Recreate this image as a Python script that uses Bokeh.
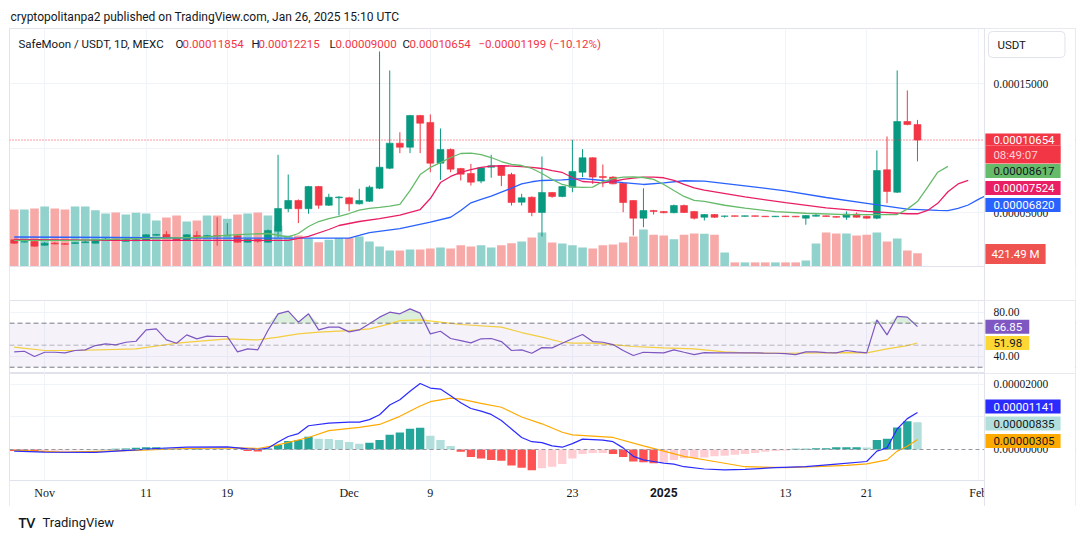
import numpy as np
import pandas as pd
from bokeh.plotting import figure
from bokeh.layouts import column
from bokeh.models import (Range1d, FixedTicker, Label, LabelSet, Span, BoxAnnotation, Grid,
                          ColumnDataSource)
from bokeh.embed import file_html
from bokeh.resources import INLINE

# ---------------- data (prices in units of 1e-5 USDT) ----------------
START_DATE = "2024-10-29"

open_e5 = [2.92, 2.75, 2.79, 2.50, 2.66, 2.62, 2.64, 2.70, 2.66, 2.88,
           2.95, 2.80, 2.85, 2.87, 3.28, 3.33, 3.08, 2.87, 3.26, 3.20,
           3.25, 3.22, 3.23, 2.74, 2.95, 2.74, 3.59, 5.33, 5.97, 5.33,
           7.05, 5.60, 6.18, 6.18, 5.71, 5.91, 6.92, 8.47, 10.41, 10.10,
           12.56, 12.02, 8.86, 9.92, 8.45, 8.06, 7.47, 8.55, 8.68, 7.98,
           5.84, 6.22, 5.04, 6.59, 6.28, 7.00, 8.16, 9.28, 7.83, 7.78,
           7.31, 5.97, 4.60, 5.19, 5.12, 5.02, 5.58, 5.12, 4.67, 4.88,
           4.74, 4.78, 4.74, 4.78, 4.75, 4.71, 4.76, 4.75, 4.60, 4.75,
           4.78, 4.73, 4.67, 4.91, 4.75, 4.60, 8.35, 6.61, 12.09, 11.854]
high_e5 = [2.98, 2.80, 2.82, 2.74, 2.74, 2.66, 2.74, 2.85, 2.96, 3.10,
           3.00, 3.08, 3.08, 3.35, 3.38, 3.59, 3.12, 3.35, 3.59, 3.31,
           4.67, 4.21, 3.27, 3.00, 2.99, 3.72, 9.51, 7.98, 6.05, 7.10,
           7.10, 6.49, 6.30, 6.25, 6.88, 7.13, 17.52, 16.05, 11.26, 12.60,
           12.60, 12.64, 11.55, 10.00, 8.50, 8.81, 8.55, 9.51, 8.72, 8.12,
           6.49, 6.28, 9.38, 6.62, 7.10, 10.67, 9.95, 9.32, 8.76, 7.85,
           7.35, 6.00, 6.92, 5.24, 5.15, 5.65, 5.65, 5.15, 4.92, 4.92,
           4.80, 4.80, 4.80, 4.80, 4.77, 4.77, 4.78, 4.77, 4.84, 4.94,
           4.80, 4.74, 5.12, 5.04, 4.78, 9.85, 10.93, 16.05, 14.50, 12.215]
low_e5 = [2.60, 2.72, 2.40, 2.47, 2.58, 2.55, 2.62, 2.68, 2.64, 2.85,
          2.87, 2.78, 2.83, 2.85, 3.25, 3.05, 2.84, 2.85, 2.92, 3.08,
          2.46, 3.20, 2.70, 2.72, 2.70, 2.72, 3.12, 5.06, 4.21, 4.94,
          5.33, 5.55, 4.81, 5.14, 5.65, 5.85, 6.85, 8.40, 9.64, 9.64,
          9.64, 8.16, 7.57, 8.16, 7.52, 7.13, 7.31, 7.73, 7.08, 5.58,
          5.58, 4.75, 3.18, 6.18, 6.22, 6.61, 7.78, 7.26, 7.00, 7.22,
          5.06, 3.26, 3.90, 4.88, 4.98, 4.98, 5.00, 4.50, 4.42, 4.62,
          4.64, 4.72, 4.72, 4.72, 4.69, 4.69, 4.70, 4.68, 4.09, 4.73,
          4.70, 4.64, 4.47, 4.65, 4.57, 4.52, 5.76, 6.55, 11.80, 9.00]
close_e5 = [2.66, 2.77, 2.43, 2.66, 2.60, 2.57, 2.70, 2.76, 2.92, 2.92,
            2.90, 2.95, 2.92, 3.31, 3.33, 3.08, 2.87, 3.31, 3.08, 3.24,
            3.21, 3.27, 2.74, 2.95, 2.81, 3.64, 5.35, 5.97, 5.33, 7.05,
            5.60, 6.22, 6.24, 5.71, 5.97, 7.00, 8.55, 10.41, 10.10, 12.56,
            11.96, 8.86, 9.92, 8.40, 8.01, 7.39, 8.50, 8.66, 7.91, 5.81,
            6.18, 5.04, 6.59, 6.28, 7.05, 8.22, 9.28, 7.78, 7.75, 7.26,
            5.81, 4.60, 5.19, 5.12, 5.02, 5.58, 5.04, 4.60, 4.88, 4.67,
            4.77, 4.74, 4.78, 4.74, 4.71, 4.75, 4.72, 4.70, 4.81, 4.83,
            4.73, 4.67, 4.91, 4.67, 4.60, 8.29, 6.67, 12.09, 11.854, 10.654]
volume_m = [1810, 1810, 1840, 1900, 1840, 1810, 1900, 1900, 1780, 1680,
            1710, 1650, 1700, 1680, 1460, 1550, 1620, 1430, 1460, 1620,
            1620, 1510, 1650, 1680, 1710, 1620, 1300, 980, 980, 880,
            770, 850, 900, 900, 950, 790, 630, 510, 510, 540,
            540, 570, 600, 570, 670, 630, 670, 600, 670, 740,
            790, 920, 1080, 760, 730, 670, 600, 570, 670, 700,
            760, 950, 1170, 1010, 980, 860, 1010, 1050, 1040, 1010,
            440, 130, 130, 130, 130, 130, 130, 130, 190, 730,
            1080, 1050, 1050, 980, 1010, 1080, 790, 890, 510, 421.49]

# Williams Alligator lines (read at sampled days, shifted forward)
lips_day = [0, 6, 12, 18, 22, 25, 27, 28, 29, 30, 31, 32, 33, 34, 35, 36, 37, 38, 39, 40,
            41, 42, 43, 44, 45, 46, 47, 48, 49, 50, 51, 52, 53, 54, 55, 56, 57, 58, 59, 60,
            61, 62, 63, 64, 65, 66, 67, 68, 70, 72, 75, 78, 82, 87, 88, 89, 90, 91, 92]
lips_e5 = [2.87, 2.87, 3.02, 3.10, 3.33, 3.41, 3.14, 3.41, 3.95, 4.34, 4.57, 4.73, 4.96, 5.23,
           5.35, 5.43, 5.54, 5.66, 6.74, 7.98, 8.53, 8.91, 9.30, 9.61, 9.64, 9.53, 9.30, 8.99,
           8.76, 8.68, 8.45, 8.06, 7.60, 7.21, 7.02, 6.98, 7.00, 7.44, 7.67, 7.78, 7.79, 7.75,
           7.60, 7.21, 6.74, 6.28, 5.97, 5.90, 5.60, 5.38, 5.10, 4.98, 4.88, 4.88, 5.30, 5.89,
           7.00, 8.16, 8.617]
teeth_day = [0, 10, 20, 27, 29, 31, 32, 34, 36, 38, 40, 41, 42, 43, 44, 45, 46, 47, 48, 49,
             50, 51, 52, 53, 54, 55, 56, 57, 58, 59, 60, 61, 62, 63, 64, 65, 66, 67, 68, 72,
             76, 80, 84, 88, 89, 90, 91, 92, 93, 94]
teeth_e5 = [2.95, 2.87, 2.87, 2.87, 3.18, 3.72, 4.03, 4.34, 4.57, 4.84, 5.27, 6.12, 7.36, 7.83,
            8.14, 8.37, 8.53, 8.63, 8.66, 8.64, 8.60, 8.53, 8.45, 8.29, 8.14, 7.75, 7.44, 7.39,
            7.33, 7.44, 7.60, 7.71, 7.78, 7.78, 7.73, 7.52, 7.21, 6.95, 6.78, 6.25, 5.80, 5.40,
            5.12, 4.94, 4.94, 5.20, 5.75, 6.65, 7.25, 7.524]
jaw_day = [0, 10, 20, 33, 34, 35, 38, 41, 43, 44, 45, 46, 47, 48, 49, 50, 51, 52, 54, 56,
           58, 60, 62, 64, 66, 68, 72, 76, 80, 84, 88, 91, 92, 93, 94, 95, 96, 97]
jaw_e5 = [3.14, 3.10, 3.05, 3.05, 3.26, 3.48, 3.78, 4.29, 4.67, 5.19, 5.79, 6.05, 6.30, 6.61,
          6.92, 7.26, 7.42, 7.52, 7.57, 7.67, 7.52, 7.36, 7.21, 7.34, 7.50, 7.47, 7.10, 6.72,
          6.20, 5.75, 5.30, 5.20, 5.19, 5.35, 5.62, 6.05, 6.45, 6.82]

rsi = [43.9, 44.5, 39.7, 43.6, 43.6, 43.0, 45.2, 45.8, 49.7, 51.2,
       50.3, 52.7, 53.6, 63.9, 64.8, 54.8, 51.8, 59.4, 55.8, 58.2,
       57.9, 57.9, 43.9, 46.7, 45.8, 63.3, 78.5, 80.9, 70.9, 78.5,
       63.9, 66.4, 66.4, 62.1, 63.9, 69.4, 75.5, 80.0, 78.5, 83.0,
       79.1, 60.3, 62.7, 56.1, 54.2, 52.1, 55.8, 56.1, 53.3, 45.2,
       45.8, 42.7, 47.8, 47.6, 51.8, 55.8, 59.7, 53.3, 52.7, 50.6,
       45.2, 40.6, 43.6, 43.3, 43.0, 45.8, 43.6, 41.5, 43.3, 43.0,
       43.0, 43.0, 43.0, 43.0, 42.7, 42.7, 42.4, 41.5, 43.9, 43.9,
       43.3, 43.0, 45.2, 43.9, 43.0, 73.0, 59.4, 76.1, 75.5, 66.85]
rsi_ma_day = [0, 3, 6, 12, 16, 21, 24, 26, 28, 30, 33, 35, 37, 38, 40, 42, 44, 48, 50, 52,
              54, 55, 57, 59, 61, 64, 67, 70, 72, 76, 79, 82, 84, 86, 88, 89]
rsi_ma = [48.2, 45.2, 45.2, 46.7, 51.8, 55.8, 54.8, 57.3, 60.3, 61.8, 63.3, 64.8, 69.4, 72.4,
          73.0, 70.9, 68.8, 66.4, 61.5, 57.3, 52.7, 51.8, 51.8, 50.6, 48.8, 47.6, 46.7, 43.9,
          43.0, 42.7, 43.0, 43.3, 43.0, 46.7, 49.7, 51.98]

macd_day = [0, 3, 8, 12, 14, 17, 21, 23, 24, 25, 26, 27, 28, 29, 31, 33, 34, 35, 36, 37,
            38, 39, 40, 41, 42, 43, 44, 45, 46, 47, 48, 49, 50, 51, 52, 53, 54, 55, 56, 58,
            59, 60, 61, 62, 63, 64, 65, 66, 68, 70, 72, 75, 78, 81, 84, 85, 86, 87, 88, 89]
macd_e5 = [-0.05, -0.08, -0.09, -0.01, 0.03, 0.07, 0.08, 0.02, 0.00, 0.04, 0.23, 0.40, 0.49,
           0.73, 0.81, 0.84, 0.84, 0.92, 1.07, 1.37, 1.53, 1.79, 2.03, 1.89, 1.86, 1.65, 1.44,
           1.26, 1.18, 1.08, 0.89, 0.63, 0.37, 0.24, 0.21, 0.11, 0.07, 0.18, 0.32, 0.29, 0.24,
           0.05, -0.21, -0.32, -0.37, -0.42, -0.45, -0.53, -0.60, -0.63, -0.61, -0.56, -0.53,
           -0.45, -0.37, -0.05, 0.05, 0.63, 0.95, 1.141]
signal_day = [0, 5, 12, 17, 22, 24, 26, 29, 31, 34, 36, 38, 40, 41, 43, 44, 46, 48, 50, 52,
              54, 55, 59, 62, 64, 66, 69, 72, 76, 79, 82, 84, 86, 87, 88, 89]
signal_e5 = [-0.03, -0.08, -0.03, 0.03, 0.05, 0.03, 0.14, 0.37, 0.58, 0.68, 0.77, 1.02, 1.34,
             1.47, 1.58, 1.55, 1.42, 1.30, 1.00, 0.79, 0.53, 0.45, 0.37, 0.11, -0.05, -0.21,
             -0.37, -0.53, -0.56, -0.53, -0.49, -0.44, -0.32, -0.05, 0.10, 0.305]
hist_e5 = [-0.05, -0.06, -0.065, -0.05, -0.04, -0.03, -0.02, -0.01, 0.01, 0.01,
           0.02, 0.03, 0.05, 0.07, 0.07, 0.05, 0.04, 0.03, 0.03, 0.025,
           0.02, 0.01, 0.005, -0.05, -0.06, 0.03, 0.14, 0.26, 0.29, 0.39,
           0.33, 0.32, 0.29, 0.23, 0.18, 0.21, 0.29, 0.45, 0.52, 0.64,
           0.67, 0.42, 0.29, 0.11, -0.07, -0.23, -0.28, -0.32, -0.35, -0.49,
           -0.56, -0.64, -0.58, -0.53, -0.45, -0.28, -0.14, -0.11, -0.11, -0.14,
           -0.23, -0.37, -0.39, -0.42, -0.39, -0.32, -0.27, -0.26, -0.25, -0.21,
           -0.19, -0.16, -0.14, -0.11, -0.07, -0.05, -0.03, 0.02, 0.02, 0.04,
           0.04, 0.07, 0.07, 0.07, 0.065, 0.29, 0.33, 0.68, 0.87, 0.835]

tick_dates = ["2024-11-01", "2024-11-11", "2024-11-19", "2024-12-01", "2024-12-09",
              "2024-12-23", "2025-01-01", "2025-01-13", "2025-01-21", "2025-02-01"]
tick_labels = ["Nov", "11", "19", "Dec", "9", "23", "2025", "13", "21", "Feb"]

price_ticks = [0.00005, 0.00015]
price_grid = [0.00005, 0.00010, 0.00015]
rsi_ticks = [40, 80]
macd_ticks = [0.0, 0.00002]
macd_grid = [0.00001, 0.00002]

# ---------------- derived ----------------
E5 = 1e-5
n = len(close_e5)
day = np.arange(n)
o = np.array(open_e5) * E5
h = np.array(high_e5) * E5
l = np.array(low_e5) * E5
c = np.array(close_e5) * E5
vol = np.array(volume_m) * 1e6
start = pd.Timestamp(START_DATE)
tick_idx = [float((pd.Timestamp(d) - start).days) for d in tick_dates]

UP, DN = "#089981", "#F23645"
VUP, VDN = "#92D2CC", "#F7A9A7"
up = c >= o
ccol = np.where(up, UP, DN)
vcol = np.where(up, VUP, VDN)

hist = np.array(hist_e5) * E5
prev = np.concatenate([[0.0], hist[:-1]])
hcol = np.where(hist >= 0, np.where(hist >= prev, "#26A69A", "#B2DFDB"),
                np.where(hist < prev, "#FF5252", "#FFCDD2"))

FONT = "Roboto"
FS = "11.5px"
TXT = "#131722"
GRID = "#F0F3FA"
BORDER = "#E0E3EB"
W = 1080
SCALE_X = 95.6      # left edge of the price-scale column (in bar units)
LABEL_X = 96.5      # where the scale texts start
TAG_X = 95.69       # left edge of the coloured value tags
x_rng = Range1d(-0.463, 104.57)
PRICE_BOTTOM = 0.853 * E5   # bottom of the price pane; below it an empty strip
MACD_BOTTOM = -0.954 * E5   # bottom of the MACD pane; below it is the time scale


def make_fig(height, top, bottom, y_rng, gticks):
    p = figure(width=W, height=height, x_range=x_rng, y_range=y_rng,
               output_backend="svg", toolbar_location=None,
               x_axis_location=None, y_axis_location=None,
               min_border_left=9, min_border_right=5, min_border_top=top,
               min_border_bottom=bottom, outline_line_color=BORDER,
               background_fill_color="white", border_fill_color="white")
    p.grid.visible = False
    p.add_layout(Grid(dimension=0, ticker=FixedTicker(ticks=tick_idx),
                      grid_line_color=GRID))
    p.add_layout(Grid(dimension=1, ticker=FixedTicker(ticks=gticks),
                      grid_line_color=GRID))
    return p


def strip_below(p, level):
    # blank strip under a pane (no grid), with the pane's bottom separator
    p.add_layout(BoxAnnotation(top=level, fill_color="white", fill_alpha=1.0,
                               line_color=None))
    p.add_layout(Span(location=level, dimension="width", line_color=BORDER))


def price_scale(p, ticks, fmt):
    # white price-scale column with its separator, then the tick texts
    p.add_layout(BoxAnnotation(left=SCALE_X, fill_color="white", fill_alpha=1.0,
                               line_color=None))
    p.add_layout(Span(location=SCALE_X, dimension="height", line_color=BORDER,
                      line_width=1))
    src = ColumnDataSource(dict(y=ticks, text=[fmt % t for t in ticks]))
    p.add_layout(LabelSet(x=LABEL_X, y="y", text="text", source=src,
                          text_font=FONT, text_font_size=FS, text_color=TXT,
                          text_align="left", text_baseline="middle"))


def tag(p, text, y, bg, color="white", y_units="screen", pl=8, pr=6, pt=3, pb=3,
        x=TAG_X, border=None, radius=0):
    p.add_layout(Label(x=x, y=y, x_units="data", y_units=y_units, text=text,
                       text_font=FONT, text_font_size=FS, text_color=color,
                       text_align="left", text_baseline="middle",
                       background_fill_color=bg, background_fill_alpha=1.0,
                       border_line_color=border, border_radius=radius,
                       padding={"left": pl, "right": pr, "top": pt, "bottom": pb}))


def text(p, s, x, y, color=TXT, size=FS, style="normal", font=FONT):
    p.add_layout(Label(x=x, y=y, x_units="screen", y_units="screen", text=s,
                       text_font=font, text_font_size=size, text_color=color,
                       text_font_style=style, text_align="left", text_baseline="middle"))


# ---------------- price pane ----------------
p1 = make_fig(300, 28, 0, Range1d(-1.783 * E5, 19.30 * E5), price_grid)
p1.title.text = "cryptopolitanpa2 published on TradingView.com, Jan 26, 2025 15:10 UTC"
p1.title.align = "left"
p1.title.offset = 1
p1.title.standoff = 9
p1.title.text_font = FONT
p1.title.text_font_size = "12px"
p1.title.text_font_style = "normal"
p1.title.text_color = TXT

p1.extra_y_ranges = {"vol": Range1d(-1.078e9, 7.545e9)}
p1.vbar(x=day, width=0.85, top=vol, bottom=0, fill_color=vcol, line_color=None,
        y_range_name="vol")
p1.segment(x0=day, y0=l, x1=day, y1=h, line_color=ccol, line_width=1)
p1.vbar(x=day, width=0.68, top=np.maximum(o, c), bottom=np.minimum(o, c),
        fill_color=ccol, line_color=ccol, line_width=0.6)
p1.line(jaw_day, np.array(jaw_e5) * E5, line_color="#2962FF", line_width=1.3)
p1.line(teeth_day, np.array(teeth_e5) * E5, line_color="#E91E63", line_width=1.3)
p1.line(lips_day, np.array(lips_e5) * E5, line_color="#66BB6A", line_width=1.3)
p1.add_layout(Span(location=c[-1], dimension="width", line_color=DN,
                   line_dash="1 2", line_width=1))
strip_below(p1, PRICE_BOTTOM)

LY = 257
text(p1, "SafeMoon / USDT, 1D, MEXC", 9, LY)
text(p1, "O", 166, LY)
text(p1, "%.8f" % o[-1], 173, LY, color=DN)
text(p1, "H", 242, LY)
text(p1, "%.8f" % h[-1], 249, LY, color=DN)
text(p1, "L", 320, LY)
text(p1, "%.8f" % l[-1], 326, LY, color=DN)
text(p1, "C", 393, LY)
text(p1, "%.8f" % c[-1], 400, LY, color=DN)
text(p1, "\u22120.00001199 (\u221210.12%)", 469, LY, color=DN)

price_scale(p1, price_ticks, "%.8f")
tag(p1, "USDT", 256, "white", color=TXT, pl=9, pr=39, pt=6, pb=6, x=95.99,
    border=BORDER, radius=4)
tag(p1, "%.8f" % c[-1], 161, DN, pt=2, pb=2)
tag(p1, "08:49:07", 146, DN, color="#FFD1D5", pr=23, pt=2, pb=2)
tag(p1, "%.8f" % (lips_e5[-1] * E5), 129.5, "#66BB6A", color=TXT)
tag(p1, "%.8f" % (teeth_e5[-1] * E5), 112.5, "#E91E63")
tag(p1, "%.8f" % (jaw_e5[-1] * E5), 95.5, "#2962FF")
tag(p1, "%.2f M" % volume_m[-1], 46.5, "#EF5350", pl=6, pr=6)

# ---------------- RSI pane ----------------
p2 = make_fig(73, 0, 0, Range1d(24.3, 90.6), rsi_ticks)
p2.add_layout(BoxAnnotation(bottom=30, top=70, fill_color="#7E57C2", fill_alpha=0.08,
                            line_color=None))
rsi_arr = np.array(rsi)
p2.varea(x=day, y1=70, y2=np.maximum(rsi_arr, 70), fill_color="#4CAF50", fill_alpha=0.2)
p2.line(rsi_ma_day, rsi_ma, line_color="#FDD835", line_width=1.2)
p2.line(day, rsi_arr, line_color="#7E57C2", line_width=1.2)
p2.add_layout(Span(location=70, dimension="width", line_color="#787B86", line_dash="5 3"))
p2.add_layout(Span(location=30, dimension="width", line_color="#787B86", line_dash="5 3"))
p2.add_layout(Span(location=50, dimension="width", line_color="#787B86", line_alpha=0.5,
                   line_dash="5 3"))
price_scale(p2, rsi_ticks, "%.2f")
tag(p2, "%.2f" % rsi[-1], rsi[-1], "#7E57C2", y_units="data", pr=7)
tag(p2, "%.2f" % rsi_ma[-1], rsi_ma[-1], "#FDD835", color=TXT, y_units="data", pr=7)

# ---------------- MACD pane + time scale ----------------
p3 = make_fig(133, 0, 0, Range1d(-1.754 * E5, 2.338 * E5), macd_grid)
p3.vbar(x=day, width=0.82, top=hist, bottom=0, fill_color=hcol, line_color=None)
p3.line(signal_day, np.array(signal_e5) * E5, line_color="#FFAA00", line_width=1.2)
p3.line(macd_day, np.array(macd_e5) * E5, line_color="#2B2BFF", line_width=1.2)
p3.add_layout(Span(location=0, dimension="width", line_color="#9598A1", line_dash="4 3"))

# time scale strip
strip_below(p3, MACD_BOTTOM)
is_year = [lab.isdigit() and len(lab) == 4 for lab in tick_labels]
tsrc = ColumnDataSource(dict(x=[t for t, y in zip(tick_idx, is_year) if not y],
                             text=[lab for lab, y in zip(tick_labels, is_year) if not y]))
p3.add_layout(LabelSet(x="x", y=14, y_units="screen", text="text", source=tsrc,
                       text_font=FONT, text_font_size="12px", text_color=TXT,
                       text_align="center", text_baseline="middle"))
for t, lab, y in zip(tick_idx, tick_labels, is_year):
    if y:
        p3.add_layout(Label(x=t, y=14, y_units="screen", text=lab, text_font=FONT,
                            text_font_size="12px", text_font_style="bold",
                            text_color=TXT, text_align="center", text_baseline="middle"))

price_scale(p3, macd_ticks, "%.8f")
tag(p3, "%.8f" % (macd_e5[-1] * E5), 100, "#2B2BFF")
tag(p3, "%.8f" % (hist_e5[-1] * E5), 83, "#B2DFDB", color=TXT)
tag(p3, "%.8f" % (signal_e5[-1] * E5), 65.5, "#FFAA00", color=TXT)

# ---------------- footer (branding) ----------------
p4 = figure(width=W, height=35, x_range=Range1d(0, 1), y_range=Range1d(0, 1),
            output_backend="svg", toolbar_location=None,
            x_axis_location=None, y_axis_location=None, min_border=0,
            outline_line_color=None, background_fill_color="white",
            border_fill_color="white")
p4.grid.visible = False
text(p4, "TV", 9, 19, size="13px", style="bold", font="Lato")
text(p4, "TradingView", 33, 19, size="13px")

layout = column(p1, p2, p3, p4, spacing=0)
open("out.html", "w").write(file_html(layout, INLINE))
